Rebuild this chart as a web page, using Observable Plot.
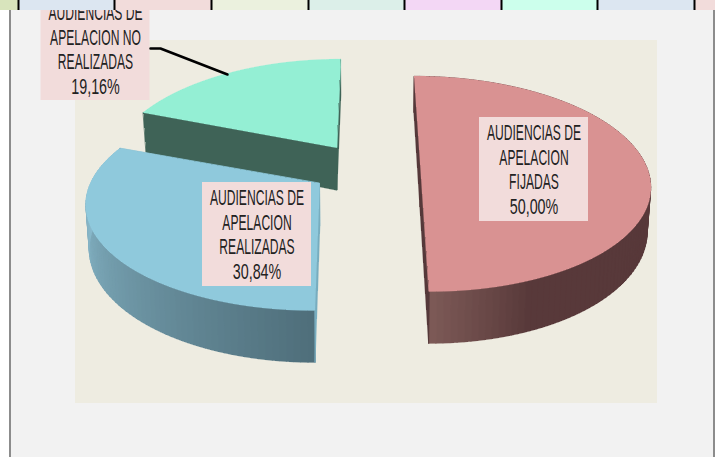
<!DOCTYPE html>
<html><head><meta charset="utf-8">
<script src="https://cdn.jsdelivr.net/npm/d3@7"></script>
<script src="https://cdn.jsdelivr.net/npm/@observablehq/plot@0.6"></script>
<style>html,body{margin:0;padding:0;background:#f2f2f2;overflow:hidden}svg{display:block}</style>
</head><body><div id="chart"></div>
<script>
const categories = ["AUDIENCIAS DE APELACION FIJADAS","AUDIENCIAS DE APELACION REALIZADAS","AUDIENCIAS DE APELACION NO REALIZADAS"];
const values = [50.00, 30.84, 19.16];
const labelLines = [
  ["AUDIENCIAS DE","APELACION","FIJADAS"],
  ["AUDIENCIAS DE","APELACION","REALIZADAS"],
  ["AUDIENCIAS DE","APELACION NO","REALIZADAS"]
];
const topColors = ["#d99292","#8fc9dc","#94efd4"];
const sideLight = ["#7d5a57","#8abbcd","#3f6357"];
const sideDark = ["#58393a","#4e6e7a","#3f6357"];
const cutColors = ["#55393a","#78adbf","#3f6357"];
const apexes = [[420,164],[319,183],[336,147]];
const vanishX = [380,341,362];
const radii = [225,229,222];
const labelCenters = [[533.5,169.5],[256.5,234.5],[95,49.5]];
const boxShift = [-0.5,-0.5,-1.5];
const stripEdges = [0,18,114,211,308,404,501,597,694,715];
const stripColors = ["#d8e4bc","#dce6f1","#f2dcdb","#ebf1de","#dcefe9","#f3d7f5","#ccffec","#dce6f1","#f2dcdb"];
const leader = [[150,48],[160,48],[227,74]];

// perspective pie geometry
const B = 104, K = 0.18, H = 42.6, BOTTOM = 0.987, STEP = 1.5;
function project(i, deg, h, r = 1) {
  const [x0, y0] = apexes[i], xv = vanishX[i];
  const t = deg * Math.PI / 180, X = r * Math.cos(t), Y = r * Math.sin(t), d = 1 - K * Y;
  const s = h ? BOTTOM : 1;
  return [xv + s * (x0 - xv + radii[i] * X) / d, y0 + (B * Y + h * H) / d];
}
const polys = [];
let id = 0;
function poly(pts, fill) { id++; for (const p of pts) polys.push({id, x: p[0], y: p[1], fill}); }
const spans = [];
let startDeg = -90;
for (const v of values) { spans.push([startDeg, startDeg + v * 3.6]); startDeg += v * 3.6; }
function wallColor(i, deg) {
  const mix = d3.interpolateRgb(sideLight[i], sideDark[i]);
  if (i === 0) return mix(Math.min(1, (90 - deg) / 22));
  return mix(Math.max(0, Math.min(1, (180 - deg) / 90)));
}
for (const i of [2, 1, 0]) {
  const [a0, a1] = spans[i];
  if (i !== 2) for (let d = a0; d < a1; d += STEP) {
    const e = Math.min(d + STEP, a1);
    poly([project(i,d,0),project(i,e,0),project(i,e,1),project(i,d,1)], wallColor(i,(d+e)/2));
  }
  const at = project(i,0,0,0), ab = project(i,0,1,0);
  poly([project(i,a0,0),at,ab,project(i,a0,1)], cutColors[i]);
  poly([project(i,a1,0),at,ab,project(i,a1,1)], cutColors[i]);
  const top = [at];
  for (let d = a0; d < a1; d += STEP) top.push(project(i,d,0));
  top.push(project(i,a1,0));
  poly(top, topColors[i]);
}
const cells = stripColors.map((c,i)=>({x1:stripEdges[i],x2:stripEdges[i+1],c}));
const fmt = v => v.toFixed(2).replace(".",",") + "%";
const textRows = [];
categories.forEach((c,i)=>{
  const lines = [...labelLines[i], fmt(values[i])];
  lines.forEach((t,j)=>textRows.push({t,x:labelCenters[i][0],y:labelCenters[i][1]+(j-1.5)*24.6}));
});
const boxes = labelCenters.map(([x,y],i)=>({x1:x-54.5,x2:x+54.5,y1:y+boxShift[i]-52,y2:y+boxShift[i]+52}));

const chart = Plot.plot({
  width:715,height:457,margin:0,
  x:{domain:[0,715],range:[0,715],axis:null},
  y:{domain:[0,457],range:[0,457],axis:null},
  color:{type:"identity"},
  style:{background:"#f2f2f2"},
  marks:[
    Plot.rect([{x1:0,x2:9,y1:0,y2:457}],{x1:"x1",x2:"x2",y1:"y1",y2:"y2",fill:"#ffffff"}),
    Plot.rect([{x1:9,x2:11,y1:0,y2:457},{x1:713,x2:715,y1:0,y2:457}],{x1:"x1",x2:"x2",y1:"y1",y2:"y2",fill:"#8c8c8c"}),
    Plot.rect([{x1:75,x2:657,y1:40,y2:403}],{x1:"x1",x2:"x2",y1:"y1",y2:"y2",fill:"#eeece1"}),
    Plot.line(polys,{x:"x",y:"y",z:"id",fill:"fill",stroke:"fill",strokeWidth:0.8,curve:"linear-closed",shapeRendering:"crispEdges"}),
    Plot.rect(boxes,{x1:"x1",x2:"x2",y1:"y1",y2:"y2",fill:"#f2dcdb"}),
    Plot.line(leader,{x:d=>d[0],y:d=>d[1],stroke:"#000",strokeWidth:2.5}),
    Plot.text(textRows,{x:"x",y:"y",text:"t",fontFamily:"'Liberation Sans',sans-serif",fontSize:22,fill:"#222",className:"lab"}),
    Plot.rect(cells,{x1:"x1",x2:"x2",y1:()=>0,y2:()=>10,fill:"c"}),
    Plot.ruleX(stripEdges.slice(1,-1),{y1:0,y2:10,stroke:"#000",strokeWidth:2})
  ]
});
document.getElementById("chart").append(chart);
d3.select(chart).selectAll(".lab text").each(function(){
  const w=this.getComputedTextLength();
  const factor=this.textContent.endsWith("%")?0.65:0.55;
  this.setAttribute("textLength",w*factor);
  this.setAttribute("lengthAdjust","spacingAndGlyphs");
});
</script></body></html>
